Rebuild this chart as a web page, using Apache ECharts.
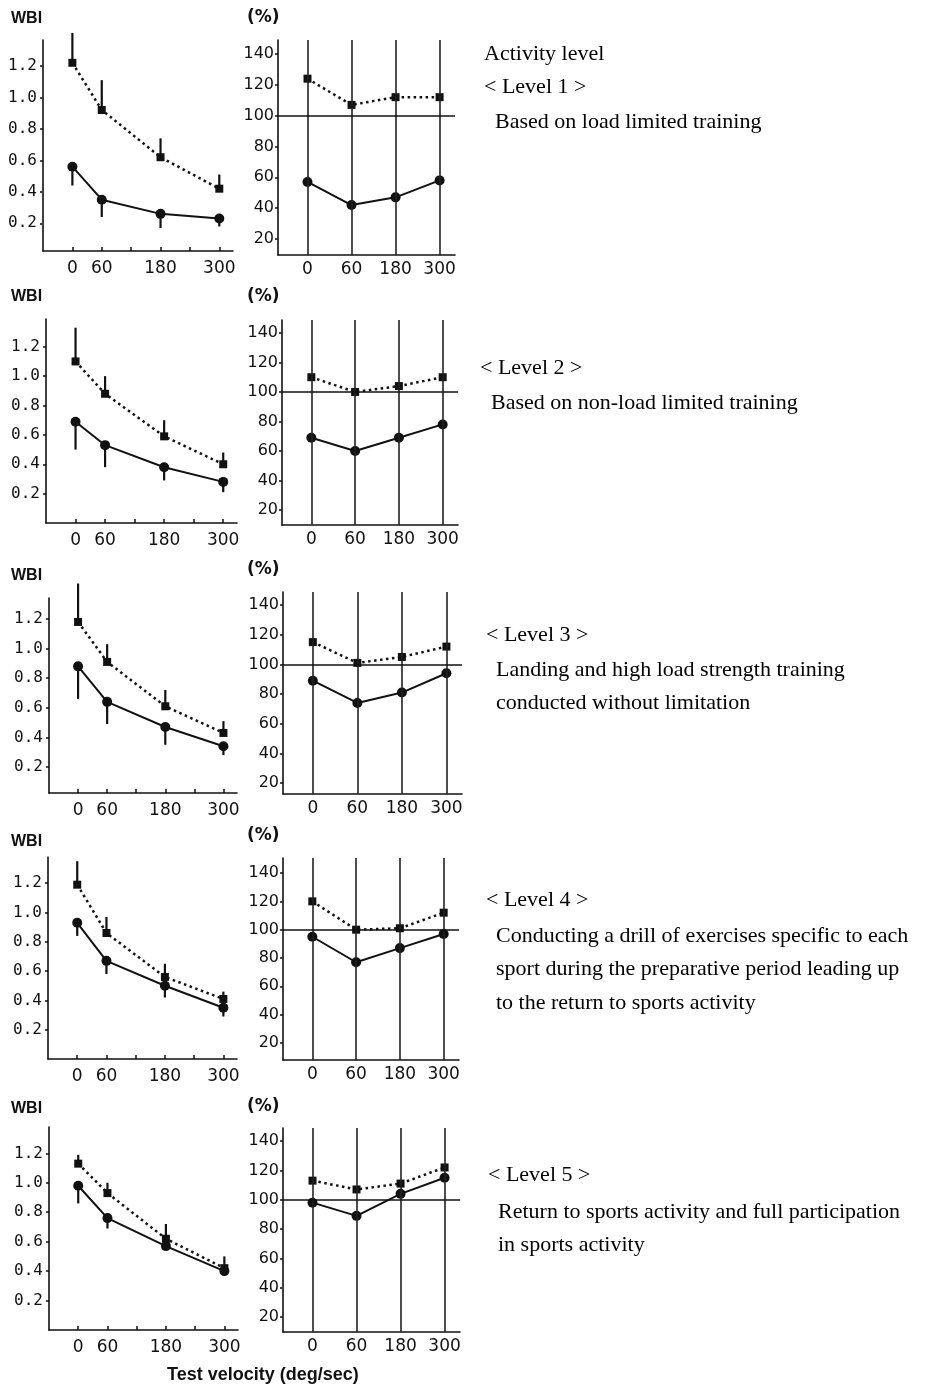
<!DOCTYPE html>
<html><head><meta charset="utf-8">
<script src="https://cdn.jsdelivr.net/npm/echarts@6/dist/echarts.min.js"></script>
<style>html,body{margin:0;padding:0;background:#fff}#c{width:929px;height:1387px}</style>
</head><body><div id="c"></div>
<script>
// ---------- DATA ----------
const velocities = [0, 60, 180, 300];
const velocityLabels = ['0', '60', '180', '300'];
const velocityTicks = [0, 60, 120, 180, 240, 300];
const wbiTicks = [0.2, 0.4, 0.6, 0.8, 1.0, 1.2];
const pctTicks = [20, 40, 60, 80, 100, 120, 140];
const pctReference = 100;

// WBI – dotted series (squares) with upper SD tip
const wbiDotted = [
  [1.22, 0.92, 0.62, 0.42],
  [1.10, 0.88, 0.59, 0.40],
  [1.18, 0.91, 0.61, 0.43],
  [1.19, 0.86, 0.56, 0.41],
  [1.13, 0.93, 0.62, 0.42]
];
const wbiDottedSDTop = [
  [1.41, 1.11, 0.74, 0.51],
  [1.33, 1.00, 0.70, 0.48],
  [1.44, 1.03, 0.72, 0.51],
  [1.35, 0.97, 0.65, 0.46],
  [1.19, 1.00, 0.72, 0.50]
];
// WBI – solid series (circles) with lower SD tip
const wbiSolid = [
  [0.56, 0.35, 0.26, 0.23],
  [0.69, 0.53, 0.38, 0.28],
  [0.88, 0.64, 0.47, 0.34],
  [0.93, 0.67, 0.50, 0.35],
  [0.98, 0.76, 0.57, 0.40]
];
const wbiSolidSDBottom = [
  [0.44, 0.24, 0.17, 0.18],
  [0.50, 0.38, 0.29, 0.21],
  [0.66, 0.49, 0.35, 0.28],
  [0.84, 0.58, 0.42, 0.29],
  [0.86, 0.69, 0.55, 0.37]
];
// Percent panels
const pctDotted = [
  [124, 107, 112, 112],
  [110, 100, 104, 110],
  [115, 101, 105, 112],
  [120, 100, 101, 112],
  [113, 107, 111, 122]
];
const pctSolid = [
  [57, 42, 47, 58],
  [69, 60, 69, 78],
  [89, 74, 81, 94],
  [95, 77, 87, 97],
  [98, 89, 104, 115]
];

// Texts
const introText = 'Activity level';
const levelTitles = ['< Level 1 >', '< Level 2 >', '< Level 3 >', '< Level 4 >', '< Level 5 >'];
const levelDescriptions = [
  ['Based on load limited training'],
  ['Based on non-load limited training'],
  ['Landing and high load strength training', 'conducted without limitation'],
  ['Conducting a drill of exercises specific to each', 'sport during the preparative period leading up', 'to the return to sports activity'],
  ['Return to sports activity and full participation', 'in sports activity']
];
const leftTitle = 'WBI';
const rightTitle = '(%)';
const xAxisTitle = 'Test velocity (deg/sec)';

// ---------- LAYOUT ----------
const leftGrids = [
  {left: 43, top: 40, width: 190, height: 211, ymin: 0.024, ymax: 1.365},
  {left: 46, top: 319, width: 191, height: 204, ymin: 0, ymax: 1.389},
  {left: 49, top: 598, width: 188, height: 195, ymin: 0.024, ymax: 1.342},
  {left: 48, top: 857, width: 189, height: 202, ymin: 0, ymax: 1.379},
  {left: 49, top: 1127, width: 189, height: 203, ymin: 0, ymax: 1.379}
];
const rightGrids = [
  {left: 278, top: 40, width: 177, height: 215, ymin: 9.6, ymax: 149.1},
  {left: 282, top: 320, width: 176, height: 205, ymin: 9.8, ymax: 148.8},
  {left: 283, top: 592, width: 179, height: 202, ymin: 12.6, ymax: 148.8},
  {left: 283, top: 858, width: 176, height: 202, ymin: 8, ymax: 150.6},
  {left: 283, top: 1128, width: 177, height: 204, ymin: 9.8, ymax: 148.9}
];
const titleY = [20, 298, 577, 843, 1110];
const rightTitleY = [19, 298, 571, 837, 1108];
const textBlocks = [
  {x: 484, titleY: 88, descX: 495, descY: 123},
  {x: 480, titleY: 369, descX: 491, descY: 404},
  {x: 486, titleY: 636, descX: 496, descY: 671},
  {x: 486, titleY: 901, descX: 496, descY: 937},
  {x: 488, titleY: 1176, descX: 498, descY: 1213}
];
const lineGap = 33.5;
const serifFont = '22px "Liberation Serif"';

const INK = '#111';
const grids = [], xAxes = [], yAxes = [], series = [], graphics = [];
const axisLineStyle = {lineStyle: {color: INK, width: 1.6}};

function errorBarSeries(idx, vals, tips) {
  return {
    type: 'custom', xAxisIndex: idx, yAxisIndex: idx, clip: false, z: 1, silent: true,
    data: velocities.map((v, j) => [v, vals[j], tips[j]]),
    renderItem: (params, api) => {
      const a = api.coord([api.value(0), api.value(1)]);
      const b = api.coord([api.value(0), api.value(2)]);
      return {type: 'line', shape: {x1: a[0], y1: a[1], x2: b[0], y2: b[1]},
        style: {stroke: INK, lineWidth: 2.2}};
    }
  };
}

for (let r = 0; r < 5; r++) {
  const L = leftGrids[r], R = rightGrids[r];
  // left grid
  const li = grids.length;
  grids.push({left: L.left, top: L.top, width: L.width, height: L.height});
  xAxes.push({
    type: 'value', gridIndex: li, min: -60, max: 328,
    axisLine: {show: true, onZero: false, ...axisLineStyle},
    splitLine: {show: false},
    axisTick: {show: true, inside: true, length: 4, customValues: velocityTicks, lineStyle: {color: INK, width: 1.5}},
    axisLabel: {customValues: velocities, margin: 9, color: INK, fontFamily: 'DejaVu Sans', fontSize: 17}
  });
  yAxes.push({
    type: 'value', gridIndex: li, min: L.ymin, max: L.ymax,
    axisLine: {show: true, onZero: false, ...axisLineStyle},
    splitLine: {show: false},
    axisTick: {show: true, length: 3, customValues: wbiTicks, lineStyle: {color: INK, width: 1.5}},
    axisLabel: {customValues: wbiTicks, margin: 6, color: INK, fontFamily: 'DejaVu Sans Mono', fontSize: 16,
      formatter: v => v.toFixed(1)}
  });
  series.push(errorBarSeries(li, wbiDotted[r], wbiDottedSDTop[r]));
  series.push(errorBarSeries(li, wbiSolid[r], wbiSolidSDBottom[r]));
  series.push({
    type: 'line', xAxisIndex: li, yAxisIndex: li, z: 3, silent: true,
    data: velocities.map((v, j) => [v, wbiDotted[r][j]]),
    symbol: 'rect', symbolSize: 8, itemStyle: {color: INK},
    lineStyle: {color: INK, width: 2.5, type: [2.5, 3.5]}
  });
  series.push({
    type: 'line', xAxisIndex: li, yAxisIndex: li, z: 3, silent: true,
    data: velocities.map((v, j) => [v, wbiSolid[r][j]]),
    symbol: 'circle', symbolSize: 10, itemStyle: {color: INK},
    lineStyle: {color: INK, width: 2}
  });

  // right grid
  const ri = grids.length;
  grids.push({left: R.left, top: R.top, width: R.width, height: R.height});
  xAxes.push({
    type: 'value', gridIndex: ri, min: -0.67, max: 3.35,
    axisLine: {show: true, onZero: false, ...axisLineStyle},
    splitLine: {show: false},
    axisTick: {show: false},
    axisLabel: {customValues: velocities.map((v, j) => j), margin: 6, color: INK, fontFamily: 'DejaVu Sans', fontSize: 17,
      formatter: v => velocityLabels[Math.round(v)]}
  });
  yAxes.push({
    type: 'value', gridIndex: ri, min: R.ymin, max: R.ymax,
    axisLine: {show: true, onZero: false, ...axisLineStyle},
    splitLine: {show: false},
    axisTick: {show: true, length: 3, customValues: pctTicks, lineStyle: {color: INK, width: 1.5}},
    axisLabel: {customValues: pctTicks, margin: 4, color: INK, fontFamily: 'DejaVu Sans', fontSize: 16}
  });
  series.push({
    type: 'line', xAxisIndex: ri, yAxisIndex: ri, z: 3, silent: true,
    data: velocities.map((v, j) => [j, pctDotted[r][j]]),
    symbol: 'rect', symbolSize: 8, itemStyle: {color: INK},
    lineStyle: {color: INK, width: 2.5, type: [2.5, 3.5]},
    markLine: {
      silent: true, symbol: 'none', label: {show: false}, animation: false,
      lineStyle: {color: '#222', width: 1.6, type: 'solid'},
      data: velocities.map((v, j) => ({xAxis: j})).concat([{yAxis: pctReference, lineStyle: {color: INK, width: 1.6}}])
    }
  });
  series.push({
    type: 'line', xAxisIndex: ri, yAxisIndex: ri, z: 3, silent: true,
    data: velocities.map((v, j) => [j, pctSolid[r][j]]),
    symbol: 'circle', symbolSize: 10, itemStyle: {color: INK},
    lineStyle: {color: INK, width: 2}
  });

  // titles
  graphics.push({type: 'text', left: 11, top: titleY[r] - 9,
    style: {text: leftTitle, fill: INK, font: 'bold 16px "Liberation Sans"'}});
  graphics.push({type: 'text', left: 247, top: rightTitleY[r] - 10,
    style: {text: rightTitle, fill: INK, font: 'bold 17px "DejaVu Sans"'}});
  // description texts
  const T = textBlocks[r];
  graphics.push({type: 'text', left: T.x, top: T.titleY - 12,
    style: {text: levelTitles[r], fill: '#000', font: serifFont}});
  levelDescriptions[r].forEach((line, k) => {
    graphics.push({type: 'text', left: T.descX, top: T.descY + k * lineGap - 12,
      style: {text: line, fill: '#000', font: serifFont}});
  });
}
graphics.push({type: 'text', left: 484, top: 55 - 12,
  style: {text: introText, fill: '#000', font: serifFont}});
graphics.push({type: 'text', left: 167, top: 1377 - 11,
  style: {text: xAxisTitle, fill: INK, font: 'bold 18px "Liberation Sans"'}});

const chart = echarts.init(document.getElementById('c'), null, {renderer: 'canvas'});
chart.setOption({
  animation: false,
  backgroundColor: '#fff',
  grid: grids, xAxis: xAxes, yAxis: yAxes, series: series, graphic: graphics
});
</script>
</body></html>
